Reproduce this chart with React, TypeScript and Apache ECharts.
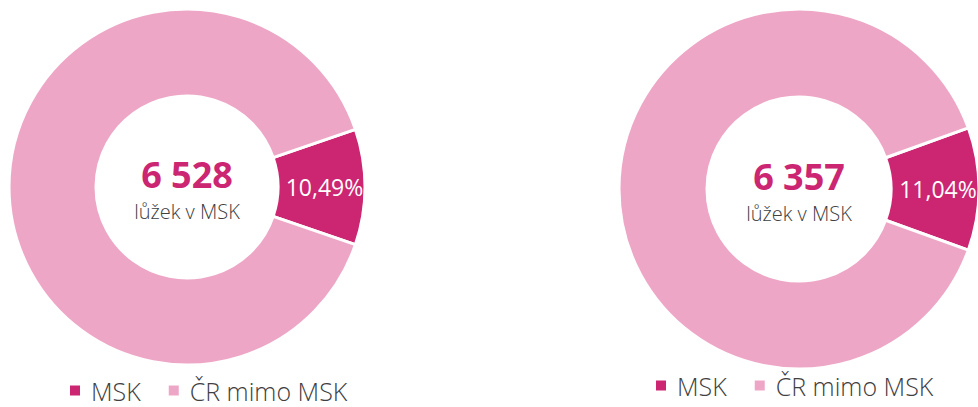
import React, { useEffect, useRef } from "react";
import * as echarts from "echarts";

const categories = ["MSK", "ČR mimo MSK"];
const leftShares = [10.49, 89.51];
const rightShares = [11.04, 88.96];
const bedCounts = ["6 528", "6 357"];
const centerCaption = "lůžek v MSK";
const colors = ["#CC2571", "#EEA6C6"];

const FONT = "'Open Sans', 'Noto Sans', sans-serif";

function pieSeries(shares: number[], center: [number, number], radius: [number, number]) {
  return {
    type: "pie",
    center,
    radius,
    startAngle: (shares[0] * 360) / 100 / 2,
    clockwise: true,
    avoidLabelOverlap: false,
    silent: true,
    itemStyle: { borderColor: "#ffffff", borderWidth: 3 },
    labelLine: { show: false },
    data: categories.map((name, i) => ({
      name,
      value: shares[i],
      itemStyle: { color: colors[i] },
      label: {
        show: i === 0,
        position: "inside",
        color: "#ffffff",
        fontFamily: FONT,
        fontSize: 23,
        fontWeight: 400,
        formatter: (p: any) => p.value.toFixed(2).replace(".", ",") + "%",
      },
    })),
  };
}

function centerTexts(cx: number, cy: number, count: string) {
  return [
    {
      type: "text",
      x: cx,
      y: cy - 13,
      style: {
        text: count,
        fill: "#CC2571",
        font: `bold 36px ${FONT}`,
        align: "center",
        verticalAlign: "middle",
      },
    },
    {
      type: "text",
      x: cx,
      y: cy + 24,
      style: {
        text: centerCaption,
        fill: "#404040",
        font: `300 20px ${FONT}`,
        align: "center",
        verticalAlign: "middle",
      },
    },
  ];
}

function legend(left: number, top: number) {
  return {
    left,
    top,
    padding: 0,
    orient: "horizontal",
    icon: "rect",
    itemWidth: 12,
    itemHeight: 12,
    itemGap: 26,
    selectedMode: false,
    data: categories,
    textStyle: {
      color: "#404040",
      fontFamily: FONT,
      fontSize: 25,
      lineHeight: 25,
      fontWeight: 300,
      padding: [0, 0, 0, 5],
    },
  };
}

export default function App() {
  const ref = useRef<HTMLDivElement>(null);

  useEffect(() => {
    if (!ref.current) return;
    const chart = echarts.init(ref.current, undefined, { renderer: "svg" });
    chart.setOption({
      animation: false,
      backgroundColor: "#ffffff",
      legend: [legend(68, 378), legend(654, 373)],
      graphic: [...centerTexts(187, 187, bedCounts[0]), ...centerTexts(799, 189, bedCounts[1])],
      series: [
        pieSeries(leftShares, [187, 187], [91, 178]),
        pieSeries(rightShares, [799, 189], [92, 180]),
      ],
    });
    return () => chart.dispose();
  }, []);

  return (
    <div
      ref={ref}
      style={{ position: "fixed", left: 0, top: 0, width: 978, height: 407 }}
    />
  );
}
